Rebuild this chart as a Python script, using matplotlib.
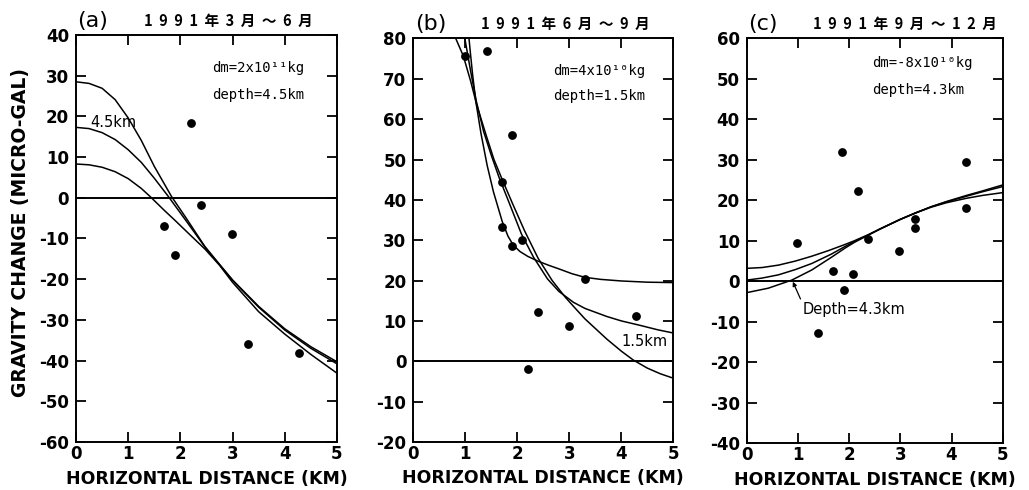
import matplotlib
matplotlib.use('Agg')
import matplotlib.pyplot as plt

plt.rcParams['font.family'] = ['DejaVu Sans', 'Noto Sans CJK JP']
plt.rcParams['font.weight'] = 'bold'
plt.rcParams['axes.unicode_minus'] = False

# ---- panel (a) 1991 Mar-Jun ----
a_obs_x = [1.68, 1.90, 2.20, 2.39, 2.98, 3.30, 4.28]
a_obs_y = [-6.9, -14.0, 18.4, -1.8, -8.9, -35.9, -38.2]

a_top_x = [0, 0.25, 0.5, 0.75, 1.0, 1.25, 1.5, 1.83, 2.1, 2.47, 2.75, 3.0, 3.5, 4.0, 4.5, 5.0]
a_top_y = [28.5, 28.1, 26.9, 24.1, 19.6, 14.1, 7.7, 0.3, -4.8, -12.0, -16.4, -20.2, -26.7, -32.2, -36.6, -40.3]
a_mid_x = [0, 0.25, 0.5, 0.75, 1.0, 1.25, 1.5, 1.77, 2.1, 2.47, 2.75, 3.0, 3.5, 4.0, 4.5, 5.0]
a_mid_y = [17.3, 17.0, 16.0, 14.3, 11.8, 8.7, 4.8, 0.3, -5.5, -12.1, -16.4, -20.3, -26.9, -32.5, -37.0, -40.8]
a_low_x = [0, 0.25, 0.5, 0.75, 1.0, 1.25, 1.42, 1.7, 1.9, 2.2, 2.47, 2.75, 3.0, 3.5, 4.0, 4.5, 5.0]
a_low_y = [8.3, 8.1, 7.5, 6.4, 4.7, 2.3, 0.3, -3.2, -5.6, -9.3, -12.6, -16.6, -20.8, -28.0, -33.5, -38.5, -43.1]

# ---- panel (b) 1991 Jun-Sep ----
b_obs_x = [0.99, 1.41, 1.71, 1.71, 1.90, 1.89, 2.08, 2.20, 2.39, 3.00, 3.30, 4.29]
b_obs_y = [75.7, 76.8, 44.4, 33.4, 56.0, 28.5, 30.1, -1.8, 12.1, 8.8, 20.5, 11.2]

b_p_x = [1.07, 1.10, 1.14, 1.20, 1.30, 1.42, 1.54, 1.71, 1.82, 1.92, 2.05, 2.2, 2.4, 2.6, 2.82, 3.05, 3.3, 3.6, 4.0, 4.5, 5.0]
b_p_y = [80, 76, 71, 64.5, 56.5, 48.5, 42.0, 34.6, 31.0, 28.8, 27.2, 26.0, 24.8, 23.8, 22.8, 21.7, 20.8, 20.3, 19.9, 19.6, 19.5]
b_q_x = [0.99, 1.1, 1.21, 1.35, 1.5, 1.65, 1.82, 2.08, 2.31, 2.58, 2.8, 3.08, 3.3, 3.72, 4.0, 4.36, 4.7, 5.0]
b_q_y = [80, 72, 64.5, 57, 51, 45.5, 40.0, 31.5, 25.8, 20.4, 17.3, 14.6, 13.1, 11.1, 10.0, 8.9, 7.8, 7.0]
b_r_x = [0.815, 0.96, 1.1, 1.22, 1.4, 1.55, 1.71, 1.91, 2.14, 2.4, 2.67, 2.92, 3.08, 3.3, 3.72, 4.0, 4.23, 4.5, 4.75, 5.0]
b_r_y = [80, 75.7, 69.5, 63.5, 56.0, 50.0, 45.0, 39.0, 32.3, 25.5, 20.0, 15.9, 13.6, 10.5, 5.5, 2.5, 0.3, -1.7, -3.1, -4.2]

# ---- panel (c) 1991 Sep-Dec ----
c_obs_x = [0.98, 1.40, 1.69, 1.87, 1.89, 2.08, 2.17, 2.37, 2.97, 3.29, 3.29, 4.29, 4.29]
c_obs_y = [9.4, -12.7, 2.6, 32.0, -2.1, 1.8, 22.4, 10.4, 7.6, 15.4, 13.1, 29.5, 18.0]

c_up_x = [0, 0.3, 0.62, 0.95, 1.27, 1.6, 1.92, 2.1, 2.37, 2.6, 3.0, 3.3, 3.6, 3.9, 4.29, 4.6, 5.0]
c_up_y = [3.2, 3.4, 4.0, 5.0, 6.2, 7.6, 9.1, 10.0, 11.5, 12.9, 15.3, 16.9, 18.3, 19.4, 20.5, 21.2, 21.9]
c_mid_x = [0, 0.3, 0.62, 0.95, 1.27, 1.65, 1.92, 2.1, 2.37, 2.6, 3.0, 3.3, 3.6, 3.9, 4.29, 4.6, 5.0]
c_mid_y = [0.3, 0.8, 1.6, 2.9, 4.4, 6.7, 8.6, 9.8, 11.4, 12.9, 15.3, 16.9, 18.4, 19.6, 21.0, 22.1, 23.4]
c_low_x = [0, 0.42, 0.88, 1.27, 1.65, 1.92, 2.1, 2.37, 2.6, 3.0, 3.3, 3.6, 3.9, 4.29, 4.6, 5.0]
c_low_y = [-2.8, -1.7, 0.3, 2.8, 5.9, 8.2, 9.6, 11.4, 12.9, 15.3, 16.9, 18.4, 19.7, 21.2, 22.3, 23.8]

panels = [
    dict(rect=[0.0739, 0.098, 0.2536, 0.8306], ylim=(-60, 40), tag='(a)',
         period='1  9  9  1  年  3  月  ～  6  月', obs=(a_obs_x, a_obs_y),
         curves=[(a_top_x, a_top_y), (a_mid_x, a_mid_y), (a_low_x, a_low_y)],
         dm='dm=2x10¹¹kg', depth='depth=4.5km', txt_xy=(2.6, 31.9, 25.3)),
    dict(rect=[0.4017, 0.098, 0.2527, 0.8235], ylim=(-20, 80), tag='(b)',
         period='1  9  9  1  年  6  月  ～  9  月', obs=(b_obs_x, b_obs_y),
         curves=[(b_p_x, b_p_y), (b_q_x, b_q_y), (b_r_x, b_r_y)],
         dm='dm=4x10¹⁰kg', depth='depth=1.5km', txt_xy=(2.69, 71.9, 65.7)),
    dict(rect=[0.7257, 0.0953, 0.2488, 0.8265], ylim=(-40, 60), tag='(c)',
         period='1  9  9  1  年  9  月  ～  1  2  月', obs=(c_obs_x, c_obs_y),
         curves=[(c_up_x, c_up_y), (c_mid_x, c_mid_y), (c_low_x, c_low_y)],
         dm='dm=-8x10¹⁰kg', depth='depth=4.3km', txt_xy=(2.45, 53.9, 47.2)),
]

fig = plt.figure(figsize=(10.29, 4.90), dpi=100)
axes = []
for p in panels:
    ax = fig.add_axes(p['rect'])
    axes.append(ax)
    for cx, cy in p['curves']:
        ax.plot(cx, cy, color='black', lw=1.1)
    ax.axhline(0, color='black', lw=1.4)
    ax.scatter(p['obs'][0], p['obs'][1], s=28, color='black', zorder=5)
    ax.set_xlim(0, 5)
    ax.set_ylim(*p['ylim'])
    ax.set_xticks(range(0, 6))
    ax.set_yticks(range(p['ylim'][0], p['ylim'][1] + 1, 10))
    ax.tick_params(direction='in', top=True, right=True, length=7, width=1.3,
                   labelsize=12)
    ax.tick_params(axis='y', pad=5)
    ax.tick_params(axis='x', pad=2)
    for s in ax.spines.values():
        s.set_linewidth(1.4)
    ax.set_xlabel('HORIZONTAL DISTANCE (KM)', fontsize=12.5, fontweight='bold')
    ax.xaxis.set_label_coords(0.5, -0.068)
    ax.text(0.005, 1.035, p['tag'], transform=ax.transAxes, fontsize=16,
            fontweight='normal', ha='left', va='center')
    ax.text(0.26, 1.035, p['period'], transform=ax.transAxes, fontsize=10.5,
            fontweight='bold', ha='left', va='center',
            family=['Noto Sans CJK JP', 'DejaVu Sans'])
    tx, ty1, ty2 = p['txt_xy']
    ax.text(tx, ty1, p['dm'], family='DejaVu Sans Mono', fontsize=10,
            fontweight='normal', va='center')
    ax.text(tx, ty2, p['depth'], family='DejaVu Sans Mono', fontsize=10,
            fontweight='normal', va='center')

axes[0].text(0.27, 18.4, '4.5km', fontsize=10.5, fontweight='normal', va='center')
axes[1].text(4.45, 4.9, '1.5km', fontsize=10.5, fontweight='normal',
             va='center', ha='center')
axes[2].annotate('Depth=4.3km', xy=(0.9, -0.1), xytext=(1.1, -6.9),
                 fontsize=10.5, fontweight='normal', va='center',
                 arrowprops=dict(arrowstyle='-|>', color='black', lw=0.9,
                                 mutation_scale=6, shrinkA=0, shrinkB=0,
                                 relpos=(0, 0.8)))

fig.text(0.0204, 0.5265, 'GRAVITY CHANGE (MICRO-GAL)', rotation=90,
         fontsize=13.5, fontweight='bold', ha='center', va='center')

fig.savefig('out.png', dpi=100)
